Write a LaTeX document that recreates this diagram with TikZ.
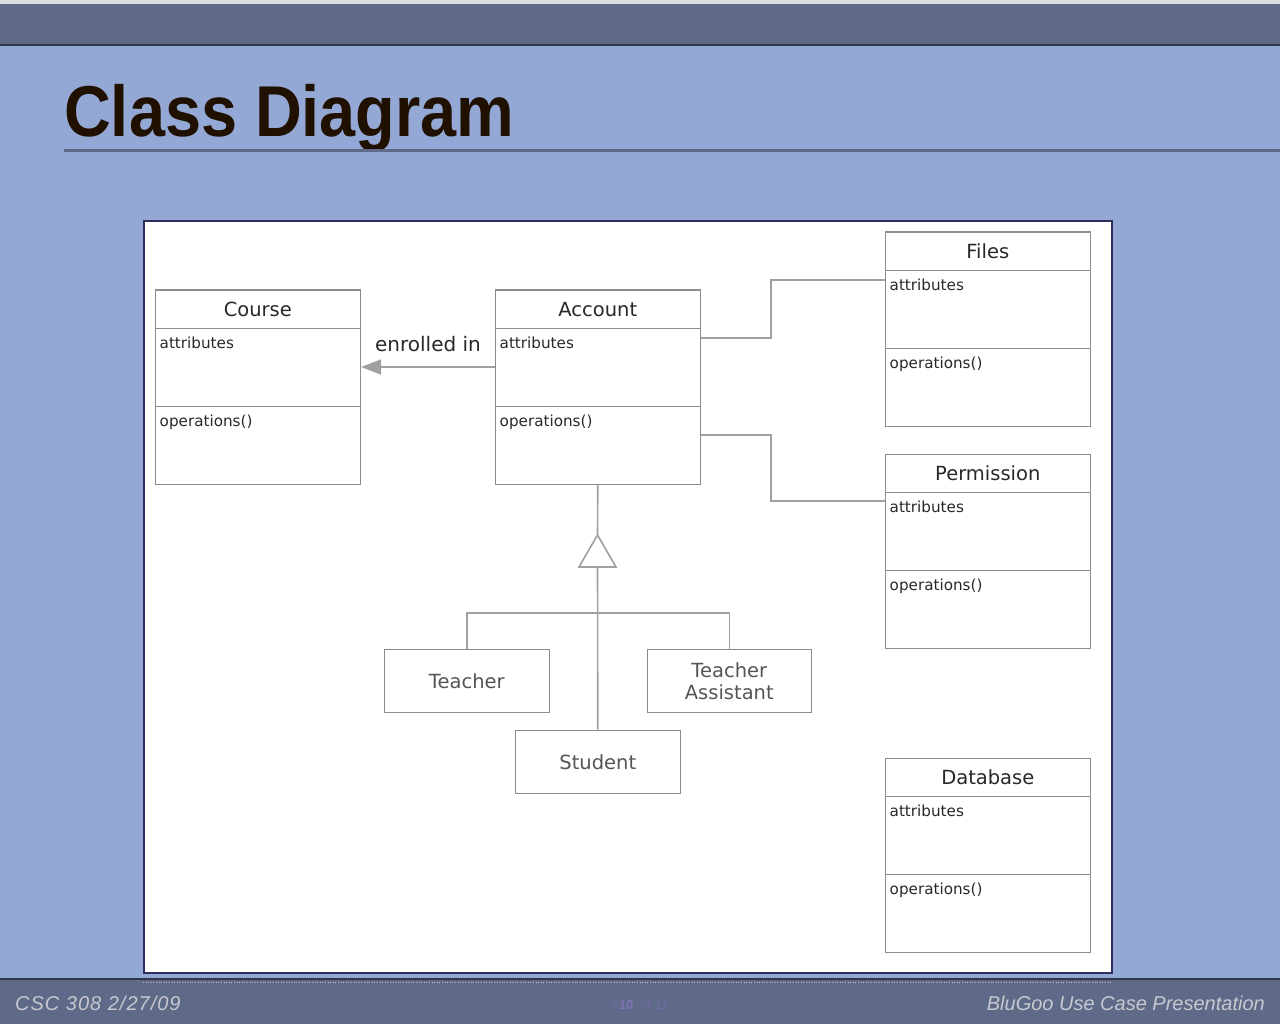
\documentclass[tikz,border=0pt]{standalone}
\usepackage{fontspec}
\setmainfont{Liberation Sans}
\newfontfamily\umlfont{DejaVu Sans}
\newfontfamily\footleftfont[LetterSpace=5]{Liberation Sans}
\usetikzlibrary{arrows.meta}
\definecolor{slidebg}{RGB}{148,168,213}
\definecolor{barbg}{RGB}{94,106,135}
\definecolor{bardark}{RGB}{48,54,72}
\definecolor{topstrip}{RGB}{222,222,222}
\definecolor{titlecol}{RGB}{32,16,0}
\definecolor{panelborder}{RGB}{46,47,94}
\definecolor{boxgray}{RGB}{140,140,140}
\definecolor{conngray}{RGB}{160,160,160}
\definecolor{umltext}{RGB}{40,40,40}
\definecolor{subtext}{RGB}{85,85,85}
\definecolor{foottext}{RGB}{200,200,208}
\definecolor{pagenum}{RGB}{130,115,185}
\definecolor{pagenumlight}{RGB}{112,108,160}
\newcommand\umlclass[4]{%
  \node[classbox, anchor=north west] (#1) at (#2,#3) {};
  \draw[boxline] ([yshift=-39pt]#1.north west) -- ([yshift=-39pt]#1.north east);
  \draw[boxline] ([yshift=-117pt]#1.north west) -- ([yshift=-117pt]#1.north east);
  \node[classtitle, anchor=base] (#1-title) at ([yshift=-27pt]#1.north) {#4};
  \node[attrtext, anchor=base west] (#1-attr) at ([xshift=5pt,yshift=-59pt]#1.north west) {attributes};
  \node[attrtext, anchor=base west] (#1-ops) at ([xshift=5pt,yshift=-137pt]#1.north west) {operations()};
}
\begin{document}
\begin{tikzpicture}[x=1pt,y=-1pt,
  classbox/.style={draw=boxgray, line width=1.6pt, fill=white, minimum width=205pt, minimum height=194pt, inner sep=0pt},
  boxline/.style={draw=boxgray, line width=1.6pt},
  classtitle/.style={font=\umlfont\fontsize{19.5}{22}\selectfont, text=umltext, inner sep=0pt},
  attrtext/.style={font=\umlfont\fontsize{15.2}{17}\selectfont, text=umltext, inner sep=0pt},
  simplebox/.style={draw=boxgray, line width=1.6pt, fill=white, minimum height=63pt, inner sep=0pt, align=center,
    font=\umlfont\fontsize{19.5}{24}\selectfont, text=subtext},
  conn/.style={draw=conngray, line width=1.6pt},
  foot/.style={font=\fontsize{20}{22}\selectfont\itshape, text=foottext, inner sep=0pt}]
\useasboundingbox (0,0) rectangle (1280,1024);
% background
\fill[slidebg] (0,0) rectangle (1280,1024);
\fill[topstrip] (0,0) rectangle (1280,4);
\fill[barbg] (0,4) rectangle (1280,45);
\draw[bardark, line width=1.5pt] (0,45) -- (1280,45);
\fill[barbg] (0,979) rectangle (1280,1024);
\draw[bardark, line width=1.5pt] (0,979) -- (1280,979);
\draw[foottext, line width=0.6pt, dotted] (143,982.5) -- (1111,982.5);
% title
\node[anchor=base west, inner sep=0pt, text=titlecol] (title) at (64,137)
  {\scalebox{0.9}[1]{\fontsize{72}{80}\selectfont\bfseries Class Diagram}};
\draw[barbg, line width=3pt] (64,151) -- (1280,151);
% white panel
\node[draw=panelborder, line width=2pt, fill=white, anchor=north west, minimum width=968pt, minimum height=752pt, inner sep=0pt] (panel) at (143,220) {};
% classes
\umlclass{Course}{154.5}{289.5}{Course}
\umlclass{Account}{494.5}{289.5}{Account}
\umlclass{Files}{884.5}{231.5}{Files}
\umlclass{Permission}{884.5}{453.5}{Permission}
\umlclass{Database}{884.5}{757.5}{Database}
% simple boxes
\node[simplebox, minimum width=165pt, anchor=north west] (Teacher) at (383.5,648.5) {Teacher};
\node[simplebox, minimum width=164pt, anchor=north west] (TA) at (646.5,648.5) {Teacher\\[-2pt]Assistant};
\node[simplebox, minimum width=165pt, anchor=north west] (Student) at (514.5,729.5) {Student};
% association Account -> Course
\draw[conn, -{Triangle[length=20pt,width=15pt]}, draw=conngray, fill=conngray]
  ([yshift=-77.5pt]Account.north west) -- ([yshift=-77.5pt]Course.north east);
\node[anchor=base, inner sep=0pt, font=\umlfont\fontsize{20}{22}\selectfont, text=umltext] (enrolled) at (428,352) {enrolled in};
% Account -- Files / Permission
\coordinate (jf) at (771,338);
\coordinate (jp) at (771,435);
\draw[conn] ([yshift=-48.5pt]Account.north east) -- (jf) |- ([yshift=-48.5pt]Files.north west);
\draw[conn] ([yshift=-145.5pt]Account.north east) -- (jp) |- ([yshift=-47.5pt]Permission.north west);
% generalization
\coordinate (gtip) at (597.5,535);
\coordinate (gbl) at (579,567);
\coordinate (gbr) at (616,567);
\coordinate (gbase) at (597.5,567);
\coordinate (gbar) at (597.5,613);
\draw[conn] (Account.south) -- (gtip);
\draw[conn, fill=white] (gtip) -- (gbl) -- (gbr) -- cycle;
\draw[conn] (gbase) -- (Student.north);
\draw[conn] (Teacher.north) |- (gbar) -| (TA.north);
% footer
\node[foot, font=\footleftfont\fontsize{20}{22}\selectfont\itshape, anchor=base west] (fl) at (15,1010) {CSC 308 2/27/09};
\node[foot, anchor=base east] (fr) at (1265,1010) {BluGoo Use Case Presentation};
\node[anchor=base, inner sep=0pt, font=\fontsize{13}{14}\selectfont] (pn) at (640,1009)
  {\textcolor{pagenumlight}{\#}\textcolor{pagenum}{\textbf{10}}\ \ \textcolor{pagenumlight}{of 11}};
\end{tikzpicture}
\end{document}
